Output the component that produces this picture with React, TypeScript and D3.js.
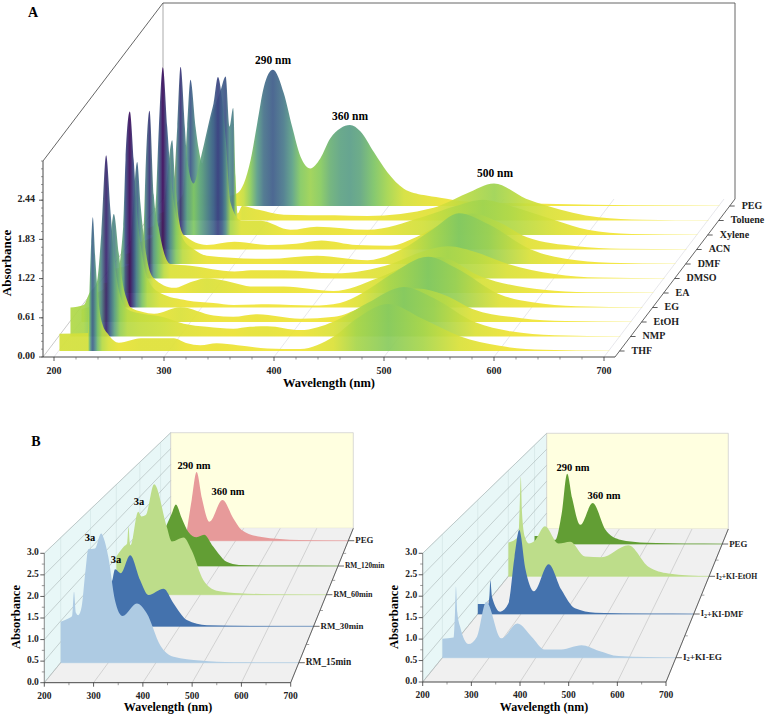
import React from "react";
import * as d3 from "d3";

// ---------- Panel A data (wavelength nm / absorbance) ----------
const solventLabels = ["THF", "NMP", "EtOH", "EG", "EA", "DMSO", "DMF", "ACN", "Xylene", "Toluene", "PEG"];
const thfWl = [200, 226, 227.2, 228.8, 230.3, 232.7, 234.8, 238.8, 244.8, 254, 274, 304, 316, 328, 343, 362, 389, 419, 449, 470, 499, 530, 564, 600, 640, 700];
const thfAbs = [0.27, 0.28, 0.9, 1.67, 2.08, 1.41, 0.9, 0.43, 0.25, 0.13, 0.2, 0.2, 0.12, 0.09, 0.12, 0.09, 0.04, 0.03, 0.22, 0.5, 0.73, 0.5, 0.23, 0.08, 0.02, 0.004];
const nmpWl = [200, 212, 217, 224, 228, 232.4, 236.3, 240, 245, 252, 263, 282, 303, 324, 348, 363, 379, 409, 439, 470, 503, 530, 568, 600, 640, 700];
const nmpAbs = [0.45, 0.49, 0.67, 0.85, 1.6, 2.82, 1.97, 1.2, 0.65, 0.42, 0.36, 0.31, 0.2, 0.15, 0.12, 0.15, 0.16, 0.1, 0.23, 0.52, 0.77, 0.6, 0.22, 0.08, 0.02, 0.004];
const etohWl = [200, 222, 225, 229.4, 233.9, 237, 241.5, 244.5, 255, 266, 290, 320, 338, 360, 399, 430, 454, 480, 505, 530, 556, 600, 640, 700];
const etohAbs = [0.2, 0.4, 1, 1.68, 1.07, 0.65, 0.34, 0.23, 0.16, 0.13, 0.23, 0.1, 0.08, 0.12, 0.05, 0.08, 0.22, 0.42, 0.52, 0.42, 0.2, 0.06, 0.015, 0.004];
const egWl = [200, 222, 227.9, 230, 233.9, 237.5, 240, 245, 250, 262, 286, 310, 328, 360, 400, 425, 445, 470, 505, 530, 571, 600, 640, 700];
const egAbs = [0.2, 0.5, 1.26, 2.29, 3.05, 2.29, 1.6, 0.85, 0.45, 0.22, 0.11, 0.07, 0.04, 0.05, 0.03, 0.07, 0.22, 0.5, 0.79, 0.62, 0.2, 0.08, 0.02, 0.004];
const eaWl = [200, 222, 226, 230.6, 233.6, 239.7, 245.7, 264, 281, 294, 308, 337, 364, 409, 449, 480, 505, 544, 600, 640, 700];
const eaAbs = [0.15, 0.3, 1.1, 2.04, 1.39, 0.51, 0.23, 0.08, 0.18, 0.23, 0.2, 0.1, 0.1, 0.03, 0.23, 0.45, 0.56, 0.25, 0.05, 0.01, 0.003];
const dmsoWl = [200, 222, 226.6, 228, 231.8, 235.7, 240, 245, 251, 269, 309, 324, 354, 400, 452, 480, 503, 530, 557, 600, 640, 700];
const dmsoAbs = [0.15, 0.3, 0.8, 1.58, 2.61, 1.3, 0.8, 0.4, 0.225, 0.2, 0.11, 0.13, 0.13, 0.08, 0.23, 0.42, 0.5, 0.4, 0.23, 0.07, 0.015, 0.003];
const dmfWl = [200, 224, 227.9, 230.3, 233.9, 237.9, 241, 246, 252, 262, 274, 329, 374, 420, 450, 480, 503, 530, 568, 600, 640, 700];
const dmfAbs = [0.15, 0.4, 1.1, 2.13, 3.06, 2.13, 1.4, 0.75, 0.4, 0.23, 0.13, 0.08, 0.13, 0.06, 0.22, 0.55, 0.79, 0.62, 0.23, 0.08, 0.02, 0.004];
const acnWl = [200, 222, 227, 232.4, 234.8, 238.5, 243, 264, 289, 319, 345, 368, 400, 430, 455, 480, 505, 530, 555, 600, 640, 700];
const acnAbs = [0.1, 0.3, 1, 1.7, 1.13, 0.46, 0.225, 0.07, 0.12, 0.07, 0.09, 0.14, 0.07, 0.06, 0.2, 0.42, 0.56, 0.42, 0.19, 0.05, 0.01, 0.003];
const xyleneWl = [200, 222, 227, 230, 233.9, 236, 242, 248, 257, 260, 264, 267.8, 271, 275.4, 285, 303, 330, 354, 400, 450, 480, 505, 530, 572, 600, 640, 700];
const xyleneAbs = [0.1, 0.4, 1.68, 2.62, 1.68, 1.17, 0.8, 1.17, 1.84, 2.05, 2.46, 2.1, 1.5, 0.5, 0.225, 0.22, 0.08, 0.13, 0.08, 0.28, 0.45, 0.55, 0.45, 0.22, 0.08, 0.015, 0.003];
const tolueneWl = [200, 222, 226, 229, 233.6, 236.6, 239.7, 244, 250, 256, 261, 264.5, 267.8, 270, 272, 276, 290, 314, 360, 390, 450, 480, 505, 534, 553, 600, 640, 700];
const tolueneAbs = [0.1, 0.4, 1.46, 2.19, 1.46, 1.1, 0.89, 1.3, 1.72, 2, 2.24, 1.46, 1.75, 0.68, 0.11, 0.225, 0.17, 0.09, 0.08, 0.07, 0.2, 0.42, 0.575, 0.34, 0.23, 0.05, 0.012, 0.003];
const pegAWl = [225, 250, 261.5, 267.5, 273.6, 279.6, 285.7, 293.9, 303.9, 311.5, 319, 328, 337, 346, 355.4, 363.9, 373.6, 385.7, 397.8, 413, 431, 446, 470, 552, 620, 700];
const pegAAbs = [0.2, 0.15, 0.2, 0.35, 0.71, 1.28, 1.85, 2.12, 1.75, 1.23, 0.77, 0.585, 0.74, 1.05, 1.21, 1.26, 1.16, 0.84, 0.53, 0.27, 0.17, 0.13, 0.07, 0.03, 0.01, 0.003];

const solventWl = [thfWl, nmpWl, etohWl, egWl, eaWl, dmsoWl, dmfWl, acnWl, xyleneWl, tolueneWl, pegAWl];
const solventAbs = [thfAbs, nmpAbs, etohAbs, egAbs, eaAbs, dmsoAbs, dmfAbs, acnAbs, xyleneAbs, tolueneAbs, pegAAbs];
const solventBases = [351, 336.5, 322, 307.5, 293, 278.5, 264, 249.5, 235, 220.5, 206];

// ---------- Panel B (left) ----------
const rmLabels = ["RM_15min", "RM_30min", "RM_60min", "RM_120min", "PEG"];
const rm15Wl = [200, 216, 224, 228, 232, 237, 244, 252, 258, 272, 285, 290, 300, 314, 330, 360, 381, 409, 437, 493, 563, 700];
const rm15Abs = [0.98, 1.06, 1.12, 1.7, 1.2, 1.14, 1.34, 2.2, 2.72, 2.74, 3.1, 3.0, 2.54, 1.5, 1.12, 1.42, 1.18, 0.42, 0.14, 0.05, 0.01, 0.002];
const rm30Wl = [240, 248, 255, 268, 289, 311, 330, 364, 386, 416, 461, 560, 700];
const rm30Abs = [1.1, 1.15, 1.46, 1.36, 1.82, 1.19, 0.8, 0.96, 0.59, 0.16, 0.03, 0.008, 0.001];
const rm60Wl = [200, 218, 226, 229, 232, 234, 252, 260, 270, 290, 320, 332, 360, 379, 407, 439, 494, 600, 700];
const rm60Abs = [1.04, 1.31, 1.4, 1.85, 1.4, 1.35, 2.26, 2.13, 2.17, 3.01, 1.85, 1.45, 1.56, 1.22, 0.4, 0.11, 0.04, 0.006, 0.001];
const rm120Wl = [200, 240, 266, 280, 291, 305, 322, 343, 362, 385, 419, 450, 550, 700];
const rm120Abs = [0.6, 0.6, 1.14, 1.5, 1.78, 1.4, 0.99, 0.83, 0.9, 0.56, 0.12, 0.03, 0.006, 0.001];
const rmPegWl = [270, 283, 296, 310, 330, 365, 394, 416, 465, 570, 700];
const rmPegAbs = [0.3, 1.25, 2.1, 1.3, 0.58, 1.24, 0.68, 0.33, 0.12, 0.02, 0.001];
const rmWl = [rm15Wl, rm30Wl, rm60Wl, rm120Wl, rmPegWl];
const rmAbs = [rm15Abs, rm30Abs, rm60Abs, rm120Abs, rmPegAbs];
const rmBases = [662.7, 626.3, 594.7, 566, 540.7];
const rmColors = ["#aecbe3", "#4472ad", "#bddd8a", "#629e34", "#e79a9a"];

// ---------- Panel B (right) ----------
const kiLabels = ["I2+KI-EG", "I2+KI-DMF", "I2+KI-EtOH", "PEG"];
const kiEgWl = [200, 224, 227, 229, 232, 238, 256, 274, 294, 326, 361, 391, 419, 455, 498, 534, 577, 700];
const kiEgAbs = [0.46, 0.49, 1.1, 1.73, 1.1, 0.75, 0.33, 0.51, 1.36, 0.47, 0.83, 0.51, 0.2, 0.2, 0.3, 0.17, 0.04, 0.001];
const kiDmfWl = [200, 224, 227, 229, 233, 252, 271, 285, 296, 310, 330, 364, 394, 425, 472, 600, 700];
const kiDmfAbs = [0.26, 0.26, 0.5, 0.88, 0.45, 0.06, 0.28, 1.5, 2.21, 1.2, 0.6, 1.31, 0.63, 0.15, 0.035, 0.004, 0.001];
const kiEtohWl = [200, 225, 228, 231, 234, 241, 251, 265, 291, 325, 354, 391, 432, 499, 549, 599, 700];
const kiEtohAbs = [0.96, 1.12, 1.9, 2.82, 1.8, 1.12, 0.93, 1.0, 1.42, 0.93, 0.98, 0.56, 0.54, 0.88, 0.27, 0.08, 0.002];
const kiPegWl = [200, 230, 255, 272, 287, 300, 322, 355, 389, 425, 500, 700];
const kiPegAbs = [0.24, 0.24, 0.12, 0.9, 2.13, 1.4, 0.58, 1.24, 0.43, 0.14, 0.04, 0.001];
const kiWl = [kiEgWl, kiDmfWl, kiEtohWl, kiPegWl];
const kiAbs = [kiEgAbs, kiDmfAbs, kiEtohAbs, kiPegAbs];
const kiBases = [657.7, 614, 576.3, 544];
const kiColors = ["#aecbe3", "#4472ad", "#bddd8a", "#629e34"];

const FONT = "'Liberation Serif', 'Times New Roman', serif";
const lerp = (a: number, b: number, t: number) => a + (b - a) * t;

type Geo = {
  fx0: number; fx1: number; bx0: number; bx1: number;
  fy: number; by: number; ft: number; bt: number;
  xDomain: [number, number]; yMax: number;
};

function makeProj(g: Geo) {
  const depth = (base: number) => (g.fy - base) / (g.fy - g.by);
  const xAt = (base: number) => {
    const d = depth(base);
    return d3.scaleLinear().domain(g.xDomain).range([lerp(g.fx0, g.bx0, d), lerp(g.fx1, g.bx1, d)]);
  };
  const yAt = (base: number) => {
    const d = depth(base);
    return d3.scaleLinear().domain([0, g.yMax]).range([base, base - lerp(g.fy - g.ft, g.by - g.bt, d)]);
  };
  return { depth, xAt, yAt };
}

function Label({ text, x, y, size }: { text: string; x: number; y: number; size: number }) {
  if (text.startsWith("I2")) {
    return (
      <text x={x} y={y} fontSize={size} fontWeight="bold" dominantBaseline="middle" fill="#222">
        I<tspan dy={2} fontSize={size * 0.7}>2</tspan><tspan dy={-2}>{text.slice(2)}</tspan>
      </text>
    );
  }
  return <text x={x} y={y} fontSize={size} fontWeight="bold" dominantBaseline="middle" fill="#222">{text}</text>;
}

const geoA: Geo = { fx0: 43, fx1: 615, bx0: 163, bx1: 735, fy: 357, by: 199, ft: 161, bt: 3, xDomain: [190, 710], yMax: 3.05 };
const colorA = d3.scaleLinear<string>()
  .domain([0, 0.12, 0.3, 0.5, 0.8, 1.26, 1.7, 2.1, 2.5, 2.85, 3.05])
  .range(["#f3e63a", "#ebe233", "#cfe03c", "#a8d64c", "#80c863", "#5b9e88", "#4d7f8c", "#3f5f8a", "#3b3f80", "#3a1f6c", "#3d0a5c"])
  .clamp(true);

function PanelA() {
  const p = makeProj(geoA);
  const fx = p.xAt(geoA.fy);
  const fyScale = p.yAt(geoA.fy);
  const xMajor = [200, 300, 400, 500, 600, 700];
  const xMinor = d3.range(200, 701, 20).filter((v) => v % 100 !== 0);
  const yMajor = [0, 0.61, 1.22, 1.83, 2.44];
  const yMinor = d3.range(0, 26).map((i) => i * 0.122);
  return (
    <g>
      {xMajor.map((v) => (
        <line key={v} x1={fx(v)} y1={geoA.fy} x2={fx(v) + 120} y2={geoA.by} stroke="#dcdce2" strokeWidth={0.7} />
      ))}
      <line x1={43} y1={357} x2={163} y2={199} stroke="#bbb" strokeWidth={0.8} />
      <line x1={163} y1={3} x2={163} y2={199} stroke="#aaa" strokeWidth={1} />
      <path d="M43,161 L163,3 L735,3 L735,199 L615,357" fill="none" stroke="#555" strokeWidth={0.9} />
      <defs>
        {solventLabels.map((name, i) => {
          const x = p.xAt(solventBases[i]);
          const wl = solventWl[i];
          const x0 = x(wl[0]), x1 = x(wl[wl.length - 1]);
          return (
            <linearGradient key={name} id={`a${i}`} gradientUnits="userSpaceOnUse" x1={x0} x2={x1} y1={0} y2={0}>
              {wl.map((w, k) => (
                <stop key={k} offset={(x(w) - x0) / (x1 - x0)} stopColor={colorA(solventAbs[i][k])} />
              ))}
            </linearGradient>
          );
        })}
      </defs>
      <g transform="translate(0.9,0)">
        {solventLabels.map((_, j) => {
          const i = solventLabels.length - 1 - j;
          const base = solventBases[i];
          const x = p.xAt(base), y = p.yAt(base);
          const pts = solventWl[i].map((w, k) => [w, solventAbs[i][k]] as [number, number]);
          const area = d3.area<[number, number]>().x((d) => x(d[0])).y0(base).y1((d) => y(d[1])).curve(d3.curveMonotoneX);
          return <path key={i} d={area(pts) || ""} fill={`url(#a${i})`} fillOpacity={0.93} />;
        })}
      </g>
      <line x1={43} y1={161} x2={43} y2={357} stroke="#333" strokeWidth={0.9} />
      <line x1={43} y1={357} x2={615} y2={357} stroke="#333" strokeWidth={0.9} />
      {yMajor.map((v) => (
        <g key={v}>
          <line x1={43} x2={39} y1={fyScale(v)} y2={fyScale(v)} stroke="#333" strokeWidth={0.8} />
          <text x={35} y={fyScale(v)} textAnchor="end" dominantBaseline="middle" fontSize={10} fontWeight="bold" fill="#222">{v.toFixed(2)}</text>
        </g>
      ))}
      {yMinor.map((v, i) => (
        <line key={i} x1={43} x2={41} y1={fyScale(v)} y2={fyScale(v)} stroke="#555" strokeWidth={0.6} />
      ))}
      {xMajor.map((v) => (
        <g key={v}>
          <line x1={fx(v)} x2={fx(v)} y1={357} y2={361} stroke="#333" strokeWidth={0.8} />
          <text x={fx(v)} y={371.5} textAnchor="middle" dominantBaseline="middle" fontSize={10} fontWeight="bold" fill="#222">{v}</text>
        </g>
      ))}
      {xMinor.map((v) => (
        <line key={v} x1={fx(v)} x2={fx(v)} y1={357} y2={359.5} stroke="#555" strokeWidth={0.6} />
      ))}
      {solventLabels.map((name, i) => {
        const base = solventBases[i];
        const xd = lerp(geoA.fx1, geoA.bx1, p.depth(base));
        return (
          <g key={name}>
            <line x1={xd} x2={xd + 5} y1={base} y2={base} stroke="#333" strokeWidth={0.8} />
            <Label text={name} x={xd + 12} y={base + 0.5} size={10} />
          </g>
        );
      })}
      <text x={33} y={14} fontSize={14} fontWeight="bold" textAnchor="middle" dominantBaseline="middle">A</text>
      <text x={273} y={61} fontSize={11.5} fontWeight="bold" textAnchor="middle" dominantBaseline="middle">290 nm</text>
      <text x={350} y={117} fontSize={11.5} fontWeight="bold" textAnchor="middle" dominantBaseline="middle">360 nm</text>
      <text x={495} y={174} fontSize={11.5} fontWeight="bold" textAnchor="middle" dominantBaseline="middle">500 nm</text>
      <text x={329} y={384} fontSize={12.5} fontWeight="bold" textAnchor="middle" dominantBaseline="middle">Wavelength (nm)</text>
      <text transform="translate(8,263) rotate(-90)" fontSize={13} fontWeight="bold" textAnchor="middle" dominantBaseline="middle">Absorbance</text>
    </g>
  );
}

type PanelBProps = {
  id: string; geo: Geo; labels: string[]; wls: number[][]; abs: number[][]; bases: number[]; colors: string[];
  labelSizes: number[];
  xLabelAt: [number, number]; yLabelAt: [number, number];
  notes: { t: string; x: number; y: number }[];
};

function PanelB({ id, geo, labels, wls, abs, bases, colors, labelSizes, xLabelAt, yLabelAt, notes }: PanelBProps) {
  const p = makeProj(geo);
  const fx = p.xAt(geo.fy);
  const fyS = p.yAt(geo.fy);
  const bx = p.xAt(geo.by);
  const byS = p.yAt(geo.by);
  const xMajor = [200, 300, 400, 500, 600, 700];
  const xMinor = [250, 350, 450, 550, 650];
  const yMajor = [0, 0.5, 1, 1.5, 2, 2.5, 3];
  const yMinor = d3.range(0.25, 3, 0.5);
  return (
    <g>
      <polygon points={`${geo.fx0},${geo.fy} ${geo.fx0},${geo.ft} ${geo.bx0},${geo.bt} ${geo.bx0},${geo.by}`} fill="#e8f7f7" stroke="#c9d6d6" strokeWidth={0.6} />
      <polygon points={`${geo.bx0},${geo.bt} ${geo.bx1},${geo.bt} ${geo.bx1},${geo.by} ${geo.bx0},${geo.by}`} fill="#ffffe0" stroke="#ccc" strokeWidth={0.7} />
      <polygon points={`${geo.fx0},${geo.fy} ${geo.fx1},${geo.fy} ${geo.bx1},${geo.by} ${geo.bx0},${geo.by}`} fill="#f0f0f0" />
      {xMajor.map((v) => (
        <line key={v} x1={fx(v)} y1={geo.fy} x2={bx(v)} y2={geo.by} stroke="#bdbdbd" strokeWidth={0.6} />
      ))}
      {bases.map((b) => {
        const d = p.depth(b);
        const x = lerp(geo.fx0, geo.bx0, d);
        const y0 = lerp(geo.fy, geo.by, d), y1 = lerp(geo.ft, geo.bt, d);
        return <line key={b} x1={x} x2={x} y1={y0} y2={y1} stroke="#d0e2e2" strokeWidth={0.6} />;
      })}
      {yMajor.map((v) => (
        <line key={v} x1={geo.fx0} y1={fyS(v)} x2={geo.bx0} y2={byS(v)} stroke="#a9b5b5" strokeWidth={0.6} />
      ))}
      {labels.map((_, j) => {
        const i = labels.length - 1 - j;
        const base = bases[i];
        const x = p.xAt(base), y = p.yAt(base);
        const pts = wls[i].map((w, k) => [w, abs[i][k]] as [number, number]);
        const area = d3.area<[number, number]>().x((d) => x(d[0])).y0(base).y1((d) => y(d[1])).curve(d3.curveMonotoneX);
        return (
          <g key={i}>
            <path d={area(pts) || ""} fill={colors[i]} />
            <line x1={x(wls[i][0])} x2={x(700)} y1={base} y2={base} stroke={colors[i]} strokeWidth={0.7} />
          </g>
        );
      })}
      <line x1={geo.fx0} y1={geo.ft} x2={geo.fx0} y2={geo.fy} stroke="#777" strokeWidth={0.8} />
      <line x1={geo.fx0} y1={geo.fy} x2={geo.fx1} y2={geo.fy} stroke="#333" strokeWidth={0.9} />
      <line x1={geo.fx1} y1={geo.fy} x2={geo.bx1} y2={geo.by} stroke="#555" strokeWidth={0.9} />
      {yMajor.map((v) => (
        <g key={v}>
          <line x1={geo.fx0} x2={geo.fx0 - 4} y1={fyS(v)} y2={fyS(v)} stroke="#333" strokeWidth={0.8} />
          <text x={geo.fx0 - 5.5} y={fyS(v)} textAnchor="end" dominantBaseline="middle" fontSize={9.5} fontWeight="bold" fill="#222">{v.toFixed(1)}</text>
        </g>
      ))}
      {yMinor.map((v) => (
        <line key={v} x1={geo.fx0} x2={geo.fx0 - 2.5} y1={fyS(v)} y2={fyS(v)} stroke="#555" strokeWidth={0.6} />
      ))}
      {xMajor.map((v) => (
        <g key={v}>
          <line x1={fx(v)} x2={fx(v)} y1={geo.fy} y2={geo.fy + 4} stroke="#333" strokeWidth={0.8} />
          <text x={fx(v)} y={geo.fy + 14} textAnchor="middle" dominantBaseline="middle" fontSize={9.5} fontWeight="bold" fill="#222">{v}</text>
        </g>
      ))}
      {xMinor.map((v) => (
        <line key={v} x1={fx(v)} x2={fx(v)} y1={geo.fy} y2={geo.fy + 2.5} stroke="#555" strokeWidth={0.6} />
      ))}
      {labels.map((name, i) => {
        const base = bases[i];
        const xd = lerp(geo.fx1, geo.bx1, p.depth(base));
        const prev = i > 0 ? bases[i - 1] : null;
        const xm = prev ? lerp(geo.fx1, geo.bx1, p.depth((base + prev) / 2)) : 0;
        return (
          <g key={id + name}>
            <line x1={xd} x2={xd + 6} y1={base} y2={base} stroke="#444" strokeWidth={0.8} />
            {prev ? <line x1={xm} x2={xm + 3} y1={(base + prev) / 2} y2={(base + prev) / 2} stroke="#666" strokeWidth={0.6} /> : null}
            <Label text={name} x={xd + 7} y={base + 0.5} size={labelSizes[i]} />
          </g>
        );
      })}
      {notes.map((n, i) => (
        <text key={i} x={n.x} y={n.y} fontSize={n.t === "B" ? 14 : 10.5} fontWeight="bold" textAnchor="middle" dominantBaseline="middle">{n.t}</text>
      ))}
      <text x={xLabelAt[0]} y={xLabelAt[1]} fontSize={12} fontWeight="bold" textAnchor="middle" dominantBaseline="middle">Wavelength (nm)</text>
      <text transform={`translate(${yLabelAt[0]},${yLabelAt[1]}) rotate(-90)`} fontSize={12.5} fontWeight="bold" textAnchor="middle" dominantBaseline="middle">Absorbance</text>
    </g>
  );
}

const geoBL: Geo = { fx0: 44.3, fx1: 290.7, bx0: 170.7, bx1: 353.3, fy: 682.7, by: 528.3, ft: 553.3, bt: 432.7, xDomain: [200, 700], yMax: 3 };
const geoBR: Geo = { fx0: 422.7, fx1: 666, bx0: 546.7, bx1: 728.3, fy: 682, by: 529, ft: 553.3, bt: 433.3, xDomain: [200, 700], yMax: 3 };

export default function App() {
  return (
    <svg width={769} height={717} style={{ position: "absolute", left: 0, top: 0, display: "block" }} fontFamily={FONT}>
      <PanelA />
      <PanelB id="l" geo={geoBL} labels={rmLabels} wls={rmWl} abs={rmAbs} bases={rmBases} colors={rmColors}
        labelSizes={[9.4, 8.9, 8.1, 7.4, 8.8]} xLabelAt={[168, 708]} yLabelAt={[17, 617]}
        notes={[{ t: "B", x: 36, y: 443 }, { t: "290 nm", x: 194, y: 467 }, { t: "360 nm", x: 228, y: 493 }, { t: "3a", x: 90, y: 539 }, { t: "3a", x: 116, y: 561 }, { t: "3a", x: 139, y: 503 }]} />
      <PanelB id="r" geo={geoBR} labels={kiLabels} wls={kiWl} abs={kiAbs} bases={kiBases} colors={kiColors}
        labelSizes={[9.2, 8.4, 7.7, 8.8]} xLabelAt={[544, 708]} yLabelAt={[395, 617]}
        notes={[{ t: "290 nm", x: 573, y: 469 }, { t: "360 nm", x: 604, y: 497 }]} />
    </svg>
  );
}
